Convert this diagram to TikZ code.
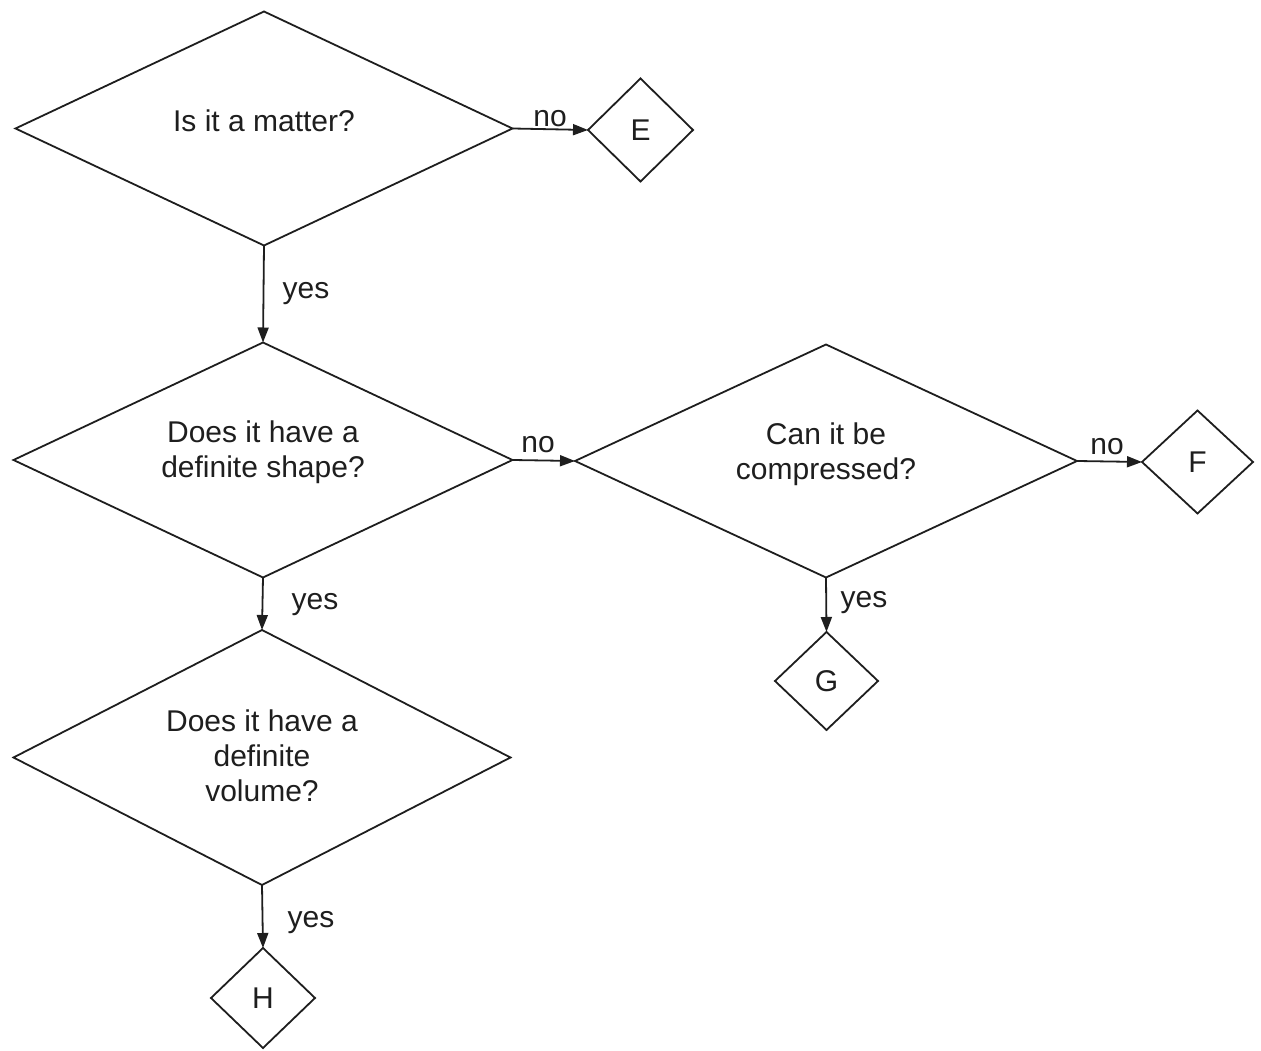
\documentclass[tikz,border=0pt]{standalone}
\usepackage{fontspec}
\setmainfont{Liberation Sans}
\usetikzlibrary{shapes.geometric,arrows.meta}
\definecolor{ink}{RGB}{30,30,30}
\begin{document}
\begin{tikzpicture}[x=1pt,y=1pt,
  dec/.style={diamond,draw=ink,line width=1.8pt,inner sep=0pt,outer sep=0pt},
  txt/.style={text=ink,align=center,inner sep=0pt,font=\fontsize{30}{35}\selectfont},
  lbl/.style={text=ink,inner sep=0pt,font=\fontsize{30}{35}\selectfont},
  conn/.style={draw=ink,line width=1.8pt,-{Triangle[length=15pt,width=11pt]}}]
\useasboundingbox (0,0) rectangle (1261,1050);
% decisions
\node[dec,minimum width=497pt,minimum height=234pt,
  label={[txt,yshift=8pt]center:Is it a matter?}] (matter) at (264,921.5) {};
\node[dec,minimum width=105pt,minimum height=103pt,
  label={[txt]center:E}] (E) at (640.5,920) {};
\node[dec,minimum width=499pt,minimum height=235pt,
  label={[txt,yshift=8pt]center:{Does it have a\\definite shape?}}] (shape) at (263,590) {};
\node[dec,minimum width=502pt,minimum height=233pt,
  label={[txt,yshift=7pt]center:{Can it be\\compressed?}}] (compress) at (826,589) {};
\node[dec,minimum width=111pt,minimum height=103pt,
  label={[txt]center:F}] (F) at (1197.5,588) {};
\node[dec,minimum width=103pt,minimum height=98pt,
  label={[txt]center:G}] (G) at (826.5,369) {};
\node[dec,minimum width=497pt,minimum height=255pt,
  label={[txt,yshift=2pt]center:{Does it have a\\definite\\volume?}}] (volume) at (262,292.5) {};
\node[dec,minimum width=104pt,minimum height=100pt,
  label={[txt]center:H}] (H) at (263,52) {};
% connectors
\draw[conn] (matter.east) -- (E.west);
\draw[conn] (matter.south) -- (shape.north);
\draw[conn] (shape.east) -- (compress.west);
\draw[conn] (compress.east) -- (F.west);
\draw[conn] (compress.south) -- (G.north);
\draw[conn] (shape.south) -- (volume.north);
\draw[conn] (volume.south) -- (H.north);
% labels
\node[lbl] (l1) at (550,931) {no};
\node[lbl] (l2) at (306,756) {yes};
\node[lbl] (l3) at (538,605) {no};
\node[lbl] (l4) at (1107,603) {no};
\node[lbl] (l5) at (315,445) {yes};
\node[lbl] (l6) at (864,447) {yes};
\node[lbl] (l7) at (311,127) {yes};
\end{tikzpicture}
\end{document}
